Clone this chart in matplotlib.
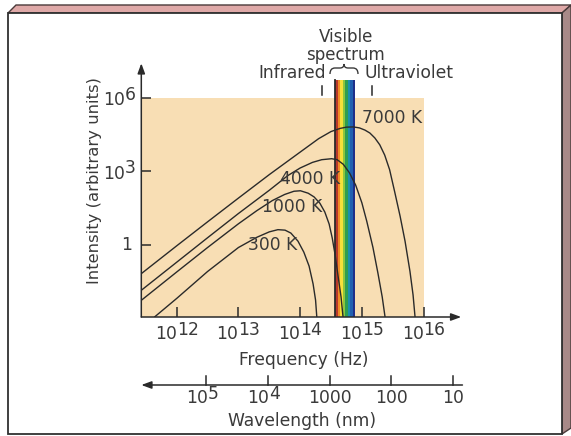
import numpy as np
import matplotlib.pyplot as plt
from matplotlib.patches import Polygon, PathPatch
from matplotlib.path import Path
from matplotlib.transforms import offset_copy

# ---- values (log10 units) ----
curve_names = ['7000 K', '4000 K', '1000 K', '300 K']

logf_7000 = [11.43, 12.0, 12.5, 13.0, 13.5, 14.0, 14.3, 14.5, 14.65, 14.75, 14.86,
             14.96, 15.05, 15.13, 15.21, 15.29, 15.37, 15.45, 15.53, 15.62, 15.70,
             15.78, 15.83, 15.862]
logI_7000 = [-1.18, -0.05, 0.93, 1.90, 2.86, 3.78, 4.33, 4.62, 4.75, 4.80, 4.81,
             4.77, 4.68, 4.56, 4.36, 4.08, 3.66, 3.06, 2.18, 1.16, 0.14,
             -1.10, -2.06, -2.96]

logf_4000 = [11.43, 12.0, 12.5, 13.0, 13.5, 13.8, 14.0, 14.2, 14.35, 14.51, 14.60,
             14.70, 14.80, 14.90, 15.0, 15.08, 15.18, 15.26, 15.33, 15.376]
logI_4000 = [-1.86, -0.72, 0.28, 1.27, 2.22, 2.82, 3.13, 3.36, 3.47, 3.51, 3.47,
             3.28, 2.93, 2.43, 1.71, 0.95, -0.12, -1.16, -2.14, -2.96]

logf_1000 = [11.43, 12.0, 12.5, 13.0, 13.3, 13.55, 13.75, 13.9, 14.005, 14.13, 14.225,
             14.32, 14.40, 14.47, 14.52, 14.57, 14.615, 14.663, 14.695]
logI_1000 = [-2.27, -1.12, -0.12, 0.85, 1.39, 1.80, 2.05, 2.18, 2.20, 2.10, 1.95,
             1.69, 1.33, 0.84, 0.27, -0.47, -1.29, -2.14, -2.96]

logf_300 = [11.645, 12.0, 12.5, 13.0, 13.3, 13.5, 13.64, 13.755, 13.85, 13.965, 14.06,
            14.145, 14.21, 14.25, 14.27]
logI_300 = [-2.95, -2.20, -1.10, -0.12, 0.30, 0.52, 0.61, 0.59, 0.47, 0.14, -0.31,
            -0.88, -1.61, -2.27, -2.96]

# where each curve label sits (log10 f, log10 I)
label_logf = [15.0, 13.674, 13.39, 13.155]
label_logI = [5.16, 2.67, 1.53, -0.02]

freq_exps = [12, 13, 14, 15, 16]
intensity_exps = [0, 3, 6]
wavelength_nm = [1e5, 1e4, 1000, 100, 10]
wavelength_base = ['10', '10', '1000', '100', '10']
wavelength_exp = ['5', '4', '', '', '']

visible_hz = (3.68e14, 7.76e14)
ir_uv_marks_hz = [2.24e14, 1.48e15]
rainbow = ['#b8382c', '#f08c24', '#f6e13a', '#8dc63f', '#2f9e4f',
           '#1a8fae', '#2160b0', '#1f2f8a']

ink = '#2a2a2a'
txt = '#3a3a3a'
fs = 12.3
plt.rcParams['font.family'] = 'DejaVu Sans'

W, H = 571, 436
fig = plt.figure(figsize=(W / 100, H / 100), dpi=100, facecolor='white')

# frame in pixel coordinates
bg = fig.add_axes([0, 0, 1, 1])
bg.set_xlim(0, W)
bg.set_ylim(H, 0)
bg.axis('off')
bg.add_patch(Polygon([(8, 13), (16, 5), (571, 5), (562, 13)], closed=True,
                     facecolor='#dfa9a8', edgecolor='#4a3a3a', lw=1))
bg.add_patch(Polygon([(562, 13), (571, 5), (571, 428), (562, 434)], closed=True,
                     facecolor='#a88988', edgecolor='#4a3a3a', lw=1))
bg.add_patch(Polygon([(8, 13), (562, 13), (562, 434), (8, 434)], closed=True,
                     facecolor='white', edgecolor='#303030', lw=1.3))

# brace over the visible band
brace = Path([(330, 74), (330, 68), (335, 68), (340, 68), (344, 68), (344, 64),
              (344, 68), (348, 68), (353, 68), (358, 68), (358, 74)],
             [Path.MOVETO, Path.CURVE3, Path.CURVE3, Path.LINETO, Path.CURVE3, Path.CURVE3,
              Path.CURVE3, Path.CURVE3, Path.LINETO, Path.CURVE3, Path.CURVE3])
bg.add_patch(PathPatch(brace, facecolor='none', edgecolor=txt, lw=1))
bg.text(346, 42, 'Visible', ha='center', va='baseline', fontsize=12, color=txt)
bg.text(345, 59.5, 'spectrum', ha='center', va='baseline', fontsize=12, color=txt)
bg.text(326, 78, 'Infrared', ha='right', va='baseline', fontsize=fs, color=txt)
bg.text(364, 78, 'Ultraviolet', ha='left', va='baseline', fontsize=fs, color=txt)
bg.text(94, 180, 'Intensity (arbitrary units)', rotation=90, ha='center', va='center',
        fontsize=11.8, color=txt)
bg.text(304, 360, 'Frequency (Hz)', ha='center', va='center', fontsize=fs, color=txt)
bg.text(302, 421, 'Wavelength (nm)', ha='center', va='center', fontsize=fs, color=txt)

# main axes
x0, x1 = 10 ** 11.426, 10 ** 16.61
y0, y1 = 10 ** -2.96, 10 ** 7.41
ax = fig.add_axes([141.3 / W, 1 - 317 / H, (461.2 - 141.3) / W, (317 - 63.3) / H])
ax.set_xscale('log')
ax.set_yscale('log')
ax.set_xlim(x0, x1)
ax.set_ylim(y0, y1)
ax.patch.set_alpha(0)
for s in ax.spines.values():
    s.set_visible(False)
ax.minorticks_off()
ax.set_xticks([10.0 ** e for e in freq_exps])
ax.set_yticks([10.0 ** e for e in intensity_exps])
ax.set_xticklabels([])
ax.set_yticklabels([])
ax.tick_params(direction='in', length=7, width=1.1, color=ink)

# tan panel
ax.fill_between([x0, 1e16], y0, 1e6, color='#f8deb4', lw=0, zorder=0)

# visible spectrum stripes
edges = np.geomspace(visible_hz[0], visible_hz[1], len(rainbow) + 1)
top = 10 ** 6.71
for c, lo, hi in zip(rainbow, edges[:-1], edges[1:]):
    ax.fill_between([lo, hi], y0, top, color=c, lw=0, zorder=1)
ax.plot([visible_hz[0]] * 2, [y0, top], color=ink, lw=1.3, zorder=2)
for m in ir_uv_marks_hz:
    ax.plot([m, m], [10 ** 6.1, 10 ** 6.47], color=ink, lw=1.1, clip_on=False)

# curves
curves = [(logf_7000, logI_7000), (logf_4000, logI_4000),
          (logf_1000, logI_1000), (logf_300, logI_300)]
for name, (lf, li), tx, ty in zip(curve_names, curves, label_logf, label_logI):
    ax.plot(10.0 ** np.array(lf), 10.0 ** np.array(li), color=ink, lw=1.0, zorder=3)
    ax.text(10.0 ** tx, 10.0 ** ty, name, ha='left', va='center', fontsize=fs,
            color=txt, zorder=4)

# axis arrows
arrow = dict(arrowstyle='-|>,head_length=0.6,head_width=0.22', color=ink, lw=1.1,
             mutation_scale=10, shrinkA=0, shrinkB=0)
ax.annotate('', xy=(x0, y1), xytext=(x0, y0), arrowprops=arrow, annotation_clip=False)
ax.annotate('', xy=(x1, y0), xytext=(x0, y0), arrowprops=arrow, annotation_clip=False)

# frequency tick labels
xt = ax.get_xaxis_transform()
for e in freq_exps:
    ax.text(10.0 ** e, 0, '10', transform=offset_copy(xt, fig=fig, x=0, y=-16.5, units='dots'),
            ha='right', va='center', fontsize=fs, color=txt)
    ax.text(10.0 ** e, 0, str(e), transform=offset_copy(xt, fig=fig, x=0, y=-13, units='dots'),
            ha='left', va='center', fontsize=fs, color=txt)

# intensity tick labels
yt = ax.get_yaxis_transform()
for e in intensity_exps:
    if e == 0:
        ax.text(0, 1.0, '1', transform=offset_copy(yt, fig=fig, x=-9.6, y=0, units='dots'),
                ha='right', va='center', fontsize=fs, color=txt)
    else:
        ax.text(0, 10.0 ** e, '10', transform=offset_copy(yt, fig=fig, x=-16.3, y=-2.5, units='dots'),
                ha='right', va='center', fontsize=fs, color=txt)
        ax.text(0, 10.0 ** e, str(e), transform=offset_copy(yt, fig=fig, x=-16.3, y=3, units='dots'),
                ha='left', va='center', fontsize=fs, color=txt)

# wavelength scale below
y_wl = -68 / 253.7
ax.annotate('', xy=(x0, y_wl), xytext=(10 ** 16.63, y_wl), xycoords=xt, textcoords=xt,
            arrowprops=arrow, annotation_clip=False)
for lam, base, ex in zip(wavelength_nm, wavelength_base, wavelength_exp):
    f = 2.998e17 / lam
    ax.plot([f, f], [y_wl, y_wl + 9 / 253.7], transform=xt, color=ink, lw=1.1, clip_on=False)
    if ex:
        ax.text(f, y_wl, base, transform=offset_copy(xt, fig=fig, x=1.6, y=-13, units='dots'),
                ha='right', va='center', fontsize=fs, color=txt)
        ax.text(f, y_wl, ex, transform=offset_copy(xt, fig=fig, x=1.6, y=-8.5, units='dots'),
                ha='left', va='center', fontsize=fs, color=txt)
    else:
        ax.text(f, y_wl, base, transform=offset_copy(xt, fig=fig, x=0, y=-13, units='dots'),
                ha='center', va='center', fontsize=fs, color=txt)

fig.savefig('out.png', dpi=100, facecolor='white')
